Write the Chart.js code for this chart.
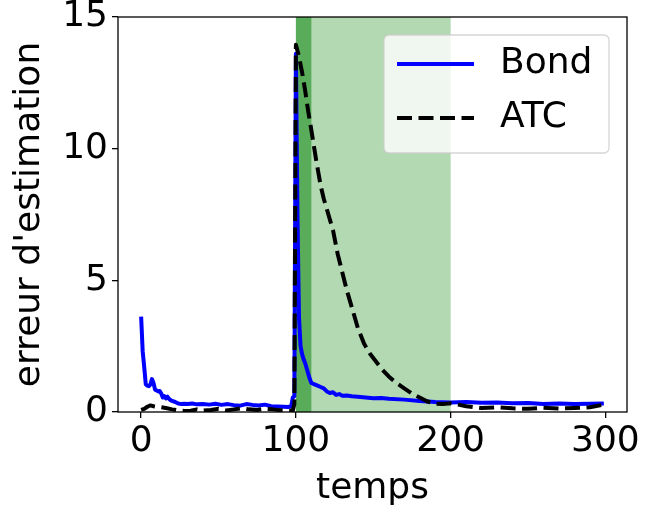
<!DOCTYPE html>
<html>
<head>
<meta charset="utf-8">
<script src="https://cdn.jsdelivr.net/npm/chart.js@4.4.1/dist/chart.umd.min.js"></script>
<style>
  html, body { margin: 0; padding: 0; background: #fff; }
  #wrap { width: 667px; height: 510px; }
</style>
</head>
<body>
<div id="wrap"><canvas id="myChart" width="667" height="510"></canvas></div>
<script>
// Bond estimation error
const bondT = [0, 1, 2, 3, 4, 5, 6, 7, 8, 9, 10, 11, 12, 13, 14, 15, 16, 17, 18, 19, 20, 22, 24, 26, 28, 30, 33, 36, 40, 44, 48, 52, 56, 60, 64, 68, 72, 76, 80, 84, 88, 92, 95, 97, 98, 99,
  100, 101, 102, 103, 104, 105, 106, 107, 108, 109, 110, 112, 114, 116, 118, 120, 122, 124, 126, 128, 130, 133, 136, 140, 145, 150, 155, 160, 170, 180, 190, 200,
  210, 220, 230, 240, 250, 260, 270, 280, 290, 299];
const bondErr = [3.62, 2.3, 1.7, 1.05, 1.0, 0.98, 1.05, 1.25, 1.1, 0.85, 0.82, 0.78, 0.8, 0.7, 0.55, 0.6, 0.52, 0.58, 0.5, 0.45, 0.42, 0.38, 0.32, 0.3, 0.31, 0.3, 0.32, 0.29, 0.3, 0.28, 0.31, 0.27, 0.3, 0.26, 0.24, 0.3, 0.27, 0.25, 0.28, 0.22, 0.21, 0.2, 0.19, 0.22, 0.55, 0.6,
  13.6, 7.5, 3.6, 2.5, 2.2, 2.0, 1.85, 1.65, 1.45, 1.25, 1.1, 1.05, 1.0, 0.95, 0.9, 0.78, 0.72, 0.75, 0.65, 0.68, 0.62, 0.63, 0.6, 0.58, 0.55, 0.52, 0.53, 0.5, 0.47, 0.42, 0.38, 0.36,
  0.38, 0.35, 0.36, 0.33, 0.34, 0.3, 0.32, 0.3, 0.31, 0.32];

// ATC estimation error
const atcT = [0, 2, 4, 6, 8, 10, 13, 16, 20, 24, 28, 32, 36, 40, 45, 50, 55, 60, 65, 70, 75, 80, 85, 90, 95, 98, 99,
  100, 102, 104, 106, 108, 110, 113, 116, 118, 121, 124, 127, 130, 133, 136, 140, 144, 148, 152, 156, 160, 165, 170, 175, 180, 185, 190, 195, 200,
  205, 210, 220, 230, 240, 250, 260, 270, 280, 290, 299];
const atcErr = [0.08, 0.12, 0.2, 0.25, 0.22, 0.2, 0.18, 0.15, 0.1, 0.06, 0.04, 0.05, 0.1, 0.05, 0.08, 0.12, 0.06, 0.1, 0.14, 0.1, 0.08, 0.12, 0.1, 0.07, 0.06, 0.05, 0.3,
  13.95, 13.5, 12.9, 12.2, 11.4, 10.7, 9.6, 8.6, 8.1, 7.5, 6.9, 6.0, 5.3, 4.6, 4.0, 3.2, 2.6, 2.2, 1.9, 1.6, 1.35, 1.1, 0.9, 0.7, 0.55, 0.4, 0.32, 0.3, 0.33,
  0.28, 0.22, 0.15, 0.18, 0.14, 0.12, 0.16, 0.13, 0.15, 0.18, 0.28];

const seriesNames = ["Bond", "ATC"];
const xTicks = [0, 100, 200, 300];
const yTicks = [0, 5, 10, 15];

// shaded intervals (light: 100-200, dark overlay: 100-110)
const spanStart = [100, 100];
const spanEnd = [200, 110];
const spanColors = ["rgba(0,128,0,0.3)", "rgba(0,128,0,0.5)"];

const FONT = "'DejaVu Sans', sans-serif";
const FS = 36;

const toPoints = (xs, ys) => xs.map((x, i) => ({ x: x, y: ys[i] }));

const spansPlugin = {
  id: "spans",
  beforeDatasetsDraw(chart) {
    const { ctx, chartArea, scales } = chart;
    ctx.save();
    spanStart.forEach((s, i) => {
      const x0 = scales.x.getPixelForValue(s);
      const x1 = scales.x.getPixelForValue(spanEnd[i]);
      ctx.fillStyle = spanColors[i];
      ctx.fillRect(x0, chartArea.top, x1 - x0, chartArea.bottom - chartArea.top);
    });
    ctx.restore();
  },
  afterDraw(chart) {
    const { ctx, chartArea } = chart;
    ctx.save();
    // frame
    ctx.strokeStyle = "#000";
    ctx.lineWidth = 1.3;
    ctx.strokeRect(chartArea.left, chartArea.top, chartArea.right - chartArea.left, chartArea.bottom - chartArea.top);

    // legend box, upper right
    const bx = 384, by = 35, bw = 225, bh = 118, r = 5;
    ctx.beginPath();
    ctx.moveTo(bx + r, by);
    ctx.arcTo(bx + bw, by, bx + bw, by + bh, r);
    ctx.arcTo(bx + bw, by + bh, bx, by + bh, r);
    ctx.arcTo(bx, by + bh, bx, by, r);
    ctx.arcTo(bx, by, bx + bw, by, r);
    ctx.closePath();
    ctx.fillStyle = "rgba(255,255,255,0.8)";
    ctx.fill();
    ctx.strokeStyle = "rgba(204,204,204,0.8)";
    ctx.lineWidth = 1.3;
    ctx.stroke();

    chart.data.datasets.forEach((ds, i) => {
      const yy = 64 + i * 54;
      ctx.beginPath();
      ctx.strokeStyle = ds.borderColor;
      ctx.lineWidth = ds.borderWidth;
      ctx.setLineDash(ds.borderDash || []);
      ctx.moveTo(397, yy);
      ctx.lineTo(474, yy);
      ctx.stroke();
      ctx.setLineDash([]);
      ctx.fillStyle = "#000";
      ctx.font = FS + "px " + FONT;
      ctx.textBaseline = "middle";
      ctx.textAlign = "left";
      ctx.fillText(ds.label, 500, yy);
    });
    ctx.restore();
  }
};

const ctx = document.getElementById("myChart").getContext("2d");

new Chart(ctx, {
  type: "line",
  data: {
    datasets: [
      {
        label: seriesNames[0],
        data: toPoints(bondT, bondErr),
        borderColor: "#0000ff",
        borderWidth: 4,
        borderJoinStyle: "round",
        pointRadius: 0,
        tension: 0,
        order: 1,
      },
      {
        label: seriesNames[1],
        data: toPoints(atcT, atcErr),
        borderColor: "#000000",
        borderWidth: 4,
        borderDash: [15, 6.5],
        borderJoinStyle: "round",
        pointRadius: 0,
        tension: 0,
        order: 0,
      },
    ],
  },
  options: {
    responsive: false,
    animation: false,
    layout: { padding: { top: 17, right: 40, left: 0, bottom: 0 } },
    plugins: { legend: { display: false }, tooltip: { enabled: false } },
    scales: {
      x: {
        type: "linear",
        min: -14.95,
        max: 313.95,
        afterBuildTicks: (s) => { s.ticks = xTicks.map((v) => ({ value: v })); },
        afterFit: (s) => { s.height = 98; s.paddingLeft = 0; s.paddingRight = 0; },
        border: { display: false },
        grid: { drawOnChartArea: false, drawTicks: true, tickLength: 6, color: "#000", lineWidth: 1.3 },
        ticks: { color: "#000", font: { family: FONT, size: FS }, padding: 2, maxRotation: 0 },
        title: { display: true, text: "temps", color: "#000", font: { family: FONT, size: FS }, padding: { top: 0, bottom: 0 } },
      },
      y: {
        min: 0,
        max: 15,
        afterBuildTicks: (s) => { s.ticks = yTicks.map((v) => ({ value: v })); },
        afterFit: (s) => { s.width = 118; s.paddingTop = 0; s.paddingBottom = 0; },
        border: { display: false },
        grid: { drawOnChartArea: false, drawTicks: true, tickLength: 6, color: "#000", lineWidth: 1.3 },
        ticks: { color: "#000", font: { family: FONT, size: FS }, padding: 4 },
        title: { display: true, text: "erreur d'estimation", color: "#000", font: { family: FONT, size: FS }, padding: { top: 8, bottom: 0 } },
      },
    },
  },
  plugins: [spansPlugin],
});
</script>
</body>
</html>
